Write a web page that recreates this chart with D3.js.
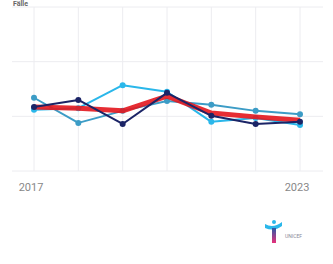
<!DOCTYPE html>
<html><head><meta charset="utf-8">
<script src="https://cdn.jsdelivr.net/npm/d3@7"></script>
<style>body{margin:0;background:#fff}svg{display:block}</style>
</head><body>
<script>
const years = [2017, 2018, 2019, 2020, 2021, 2022, 2023];
const tickYears = [2017, 2023];
const yTicks = [0, 10, 20, 30];
const redValues   = [11.7, 11.5, 11.0, 13.7, 10.6, 9.9, 9.3];
const navyValues  = [11.7, 13.0, 8.6, 14.3, 10.1, 8.6, 9.0];
const cyanValues  = [11.2, 11.5, 15.7, 14.5, 9.0, 9.7, 8.4];
const tealValues  = [13.4, 8.8, 11.0, 12.8, 12.1, 11.0, 10.4];
const titleText = "Fälle";
const logoText = "UNICEF";

const W = 333, H = 264;
const svg = d3.select("body").append("svg").attr("width", W).attr("height", H);
const x = d3.scalePoint().domain(years).range([34, 300]);
const y = d3.scaleLinear().domain([0, 30]).range([171, 7]);

// grid
svg.append("g").selectAll("line").data(yTicks).join("line")
  .attr("x1", 12).attr("x2", 323).attr("y1", d => y(d)).attr("y2", d => y(d))
  .attr("stroke", "#ececf0").attr("stroke-width", 1);
svg.append("g").selectAll("line").data(years).join("line")
  .attr("x1", d => x(d)).attr("x2", d => x(d)).attr("y1", y(30)).attr("y2", y(0))
  .attr("stroke", "#ececf0").attr("stroke-width", 1);

svg.append("text").attr("x", 13).attr("y", 6).attr("font-family", "Roboto, sans-serif")
  .attr("font-size", 7).attr("font-weight", "bold").attr("fill", "#666").text(titleText);

svg.append("g").selectAll("text").data(tickYears).join("text")
  .attr("x", d => x(d) - 3).attr("y", 191).attr("text-anchor", "middle")
  .attr("font-family", "Roboto, sans-serif").attr("font-size", 11).attr("fill", "#888")
  .text(d => d);

const line = d3.line().x((d, i) => x(years[i])).y(d => y(d));
const series = [
  {v: tealValues, c: "#3c9cc6", w: 2, dots: true},
  {v: cyanValues, c: "#2ab7ea", w: 2, dots: true},
  {v: redValues, c: "#e3161d", w: 5, dots: false},
  {v: navyValues, c: "#1b2466", w: 2, dots: true}
];
series.forEach(s => {
  svg.append("path").datum(s.v).attr("d", line).attr("fill", "none")
    .attr("stroke", s.c).attr("stroke-width", s.w).attr("stroke-linejoin", "round")
    .attr("stroke-opacity", s.dots ? 1 : 0.9);
  if (s.dots) svg.append("g").selectAll("circle").data(s.v).join("circle")
    .attr("cx", (d, i) => x(years[i])).attr("cy", d => y(d)).attr("r", 3).attr("fill", s.c);
});

// logo
const lg = svg.append("g");
const grad = svg.append("defs").append("linearGradient").attr("id", "lg").attr("x1", 0).attr("x2", 0).attr("y1", 0).attr("y2", 1);
grad.append("stop").attr("offset", "0%").attr("stop-color", "#2a5aa8");
grad.append("stop").attr("offset", "100%").attr("stop-color", "#e8307a");
lg.append("path").attr("d", "M265,224 Q273,229 282,222 L282,226 Q274,232 265,228 Z").attr("fill", "#2ab7ea");
lg.append("circle").attr("cx", 274).attr("cy", 222).attr("r", 2).attr("fill", "#2ab7ea");
lg.append("rect").attr("x", 272).attr("y", 228).attr("width", 4).attr("height", 15).attr("fill", "url(#lg)");
lg.append("text").attr("x", 285).attr("y", 238).attr("font-family", "Roboto, sans-serif")
  .attr("font-size", 5).attr("fill", "#8a8a99").text(logoText);
</script>
</body></html>
